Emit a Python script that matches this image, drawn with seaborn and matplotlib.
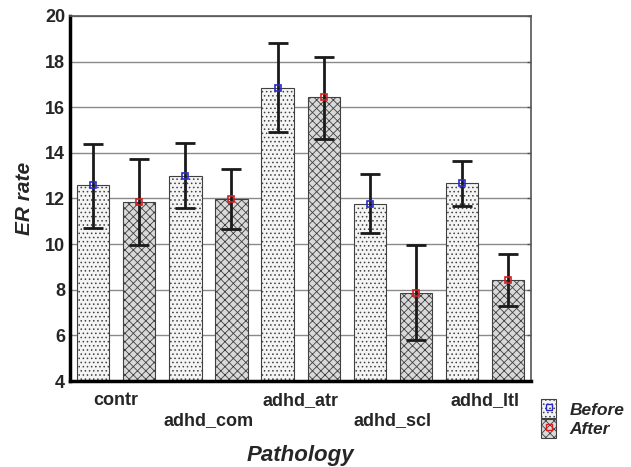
import numpy as np
import pandas as pd
import matplotlib
matplotlib.use("Agg")
import matplotlib.pyplot as plt
import seaborn as sns
from matplotlib.patches import Patch
from matplotlib.lines import Line2D

# Datos
pathology = ["contr", "adhd_com", "adhd_atr", "adhd_scl", "adhd_ltl"]
before_mean = [12.58, 12.98, 16.83, 11.75, 12.66]
before_lo = [10.69, 11.57, 14.90, 10.47, 11.67]
before_hi = [14.38, 14.42, 18.79, 13.07, 13.64]
after_mean = [11.86, 11.97, 16.43, 7.86, 8.45]
after_lo = [9.96, 10.67, 14.59, 5.79, 7.31]
after_hi = [13.74, 13.28, 18.22, 9.96, 9.56]

sns.set_style("white")
plt.rcParams["font.family"] = ["Liberation Sans", "DejaVu Sans"]
plt.rcParams["hatch.linewidth"] = 0.6

df = pd.DataFrame({
    "Pathology": pathology * 2,
    "ER rate": before_mean + after_mean,
    "time": ["Before"] * 5 + ["After"] * 5,
})

fig = plt.figure(figsize=(6.31, 4.67), dpi=100)
ax = fig.add_axes([0.111, 0.184, 0.731, 0.782])
ax.set_axisbelow(True)
ax.grid(True, color="#8a8a8a", linewidth=1.0)

pal = {"Before": "#f4f4f4", "After": "#d9d9d9"}
sns.barplot(data=df, x="Pathology", y="ER rate", hue="time", palette=pal,
            width=1.0, gap=0.3, errorbar=None, edgecolor="#404040",
            linewidth=0.8, legend=False, ax=ax)

hatches = {"Before": "....", "After": "xxxx"}
mcol = {"Before": "#2a2acc", "After": "#d42020"}
series = {"Before": (before_mean, before_lo, before_hi),
          "After": (after_mean, after_lo, after_hi)}
for cont, key in zip(ax.containers, ["Before", "After"]):
    m, lo, hi = series[key]
    xs = []
    for p in cont.patches:
        p.set_hatch(hatches[key])
        xs.append(p.get_x() + p.get_width() / 2)
    m = np.array(m)
    yerr = [m - np.array(lo), np.array(hi) - m]
    ax.errorbar(xs, m, yerr=yerr, fmt="none", ecolor="#1a1a1a",
                elinewidth=2, capsize=7.5, capthick=2, zorder=3)
    ax.plot(xs, m, ls="", marker="s", ms=5, mfc="none", mec=mcol[key],
            mew=1.2, zorder=4)

ax.set_ylim(4, 20)
ax.set_xlim(-0.5, 4.5)
ax.set_yticks(range(4, 21, 2))
ax.set_xticks(range(5))
ax.set_xticklabels([("\n" + p if i % 2 else p) for i, p in enumerate(pathology)])
ax.tick_params(axis="x", direction="in", length=3, width=2, color="black",
               labelsize=13, pad=8)
ax.tick_params(axis="y", direction="in", length=3, width=1, color="#555555",
               labelsize=13, right=True)
for lab in ax.get_xticklabels() + ax.get_yticklabels():
    lab.set_fontweight("bold")

for s in ["left", "bottom"]:
    ax.spines[s].set_linewidth(2.5)
    ax.spines[s].set_color("black")
for s in ["top", "right"]:
    ax.spines[s].set_linewidth(1.2)
    ax.spines[s].set_color("#555555")

ax.set_ylabel("ER rate", fontsize=15, fontweight="bold", style="italic", labelpad=8)
ax.set_xlabel("Pathology", fontsize=16, fontweight="bold", style="italic", labelpad=12)

handles = []
for key in ["Before", "After"]:
    patch = Patch(facecolor=pal[key], edgecolor="#404040", hatch=hatches[key], linewidth=0.8)
    mk = Line2D([], [], ls="", marker="s", ms=4, mfc="none", mec=mcol[key], mew=1)
    handles.append((patch, mk))
fig.legend(handles, ["Before", "After"], loc="upper left", bbox_to_anchor=(0.846, 0.16),
           frameon=False, handlelength=0.9, handleheight=1.3, labelspacing=0.05,
           handletextpad=0.75, borderaxespad=0,
           prop={"size": 12.5, "weight": "bold", "style": "italic"})

fig.savefig("out.png", dpi=100)
